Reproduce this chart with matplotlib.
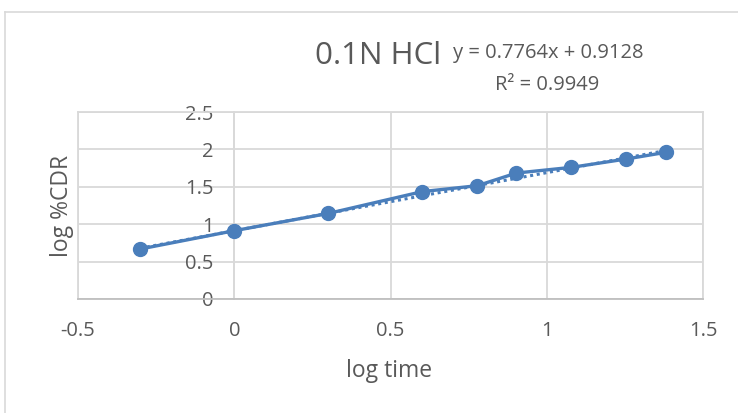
import numpy as np
import matplotlib.pyplot as plt
from matplotlib.lines import Line2D

# log time vs log %CDR, dissolution in 0.1N HCl
log_time = [-0.301, 0.0, 0.301, 0.602, 0.778, 0.903, 1.079, 1.255, 1.380]
log_cdr = [0.668, 0.913, 1.144, 1.436, 1.515, 1.684, 1.760, 1.872, 1.960]

# Excel linear trendline reported on the chart
slope = 0.7764
intercept = 0.9128
r_squared = 0.9949

x_ticks = [-0.5, 0, 0.5, 1, 1.5]
y_ticks = [0, 0.5, 1, 1.5, 2, 2.5]

blue = '#4A7EBB'
grid_grey = '#D9D9D9'
text_grey = '#595959'

plt.rcParams['font.family'] = ['Open Sans', 'DejaVu Sans']

fig = plt.figure(figsize=(7.38, 4.13), dpi=100)

# chart area border (left and top edges visible)
fig.add_artist(Line2D([5 / 738, 5 / 738], [0, 1 - 12 / 413], color=grid_grey, lw=1.2,
                      transform=fig.transFigure))
fig.add_artist(Line2D([5 / 738, 1], [1 - 12 / 413, 1 - 12 / 413], color=grid_grey, lw=1.2,
                      transform=fig.transFigure))

ax = fig.add_axes([78 / 738, 1 - 299 / 413, (703 - 78) / 738, (299 - 112) / 413])
ax.set_xlim(-0.5, 1.5)
ax.set_ylim(0, 2.5)
ax.set_xticks(x_ticks)
ax.set_yticks(y_ticks)
ax.set_xticklabels(['-0.5', '0', '0.5', '1', '1.5'])
ax.set_yticklabels(['0', '0.5', '1', '1.5', '2', '2.5'])

ax.grid(True, color=grid_grey, lw=1.3)
ax.set_axisbelow(True)
for side in ['top', 'right', 'bottom', 'left']:
    ax.spines[side].set_color(grid_grey)
    ax.spines[side].set_linewidth(1.3)
ax.spines['left'].set_position(('data', 0))
ax.axvline(-0.5, color=grid_grey, lw=1.3, clip_on=False, zorder=0)
ax.spines['bottom'].set_color('#BFBFBF')

ax.tick_params(axis='both', length=0, labelsize=14.5, labelcolor=text_grey)
ax.tick_params(axis='x', pad=16)
ax.tick_params(axis='y', pad=15)

# trendline (dotted) from the reported equation
tx = np.array([min(log_time), max(log_time)])
ax.plot(tx, slope * tx + intercept, color=blue, lw=2.2, ls=(0, (1, 1.2)), zorder=2)

ax.plot(log_time, log_cdr, color=blue, lw=2.4, marker='o', markersize=10, zorder=3)

fig.text(62 / 738, 1 - 206 / 413, 'log %CDR', rotation=90, ha='center', va='center',
         fontsize=16.5, color=text_grey)
fig.text(389 / 738, 1 - 371 / 413, 'log time', ha='center', va='center',
         fontsize=16.5, color=text_grey)

fig.text(441 / 738, 1 - 56 / 413, '0.1N HCl', ha='right', va='center',
         fontsize=22.5, color=text_grey)
fig.text(548 / 738, 1 - 53 / 413, f'y = {slope}x + {intercept}', ha='center', va='center',
         fontsize=14.5, color=text_grey)
fig.text(547 / 738, 1 - 85 / 413, f'R² = {r_squared}', ha='center', va='center',
         fontsize=14.5, color=text_grey)

fig.savefig('out.png', dpi=100)
